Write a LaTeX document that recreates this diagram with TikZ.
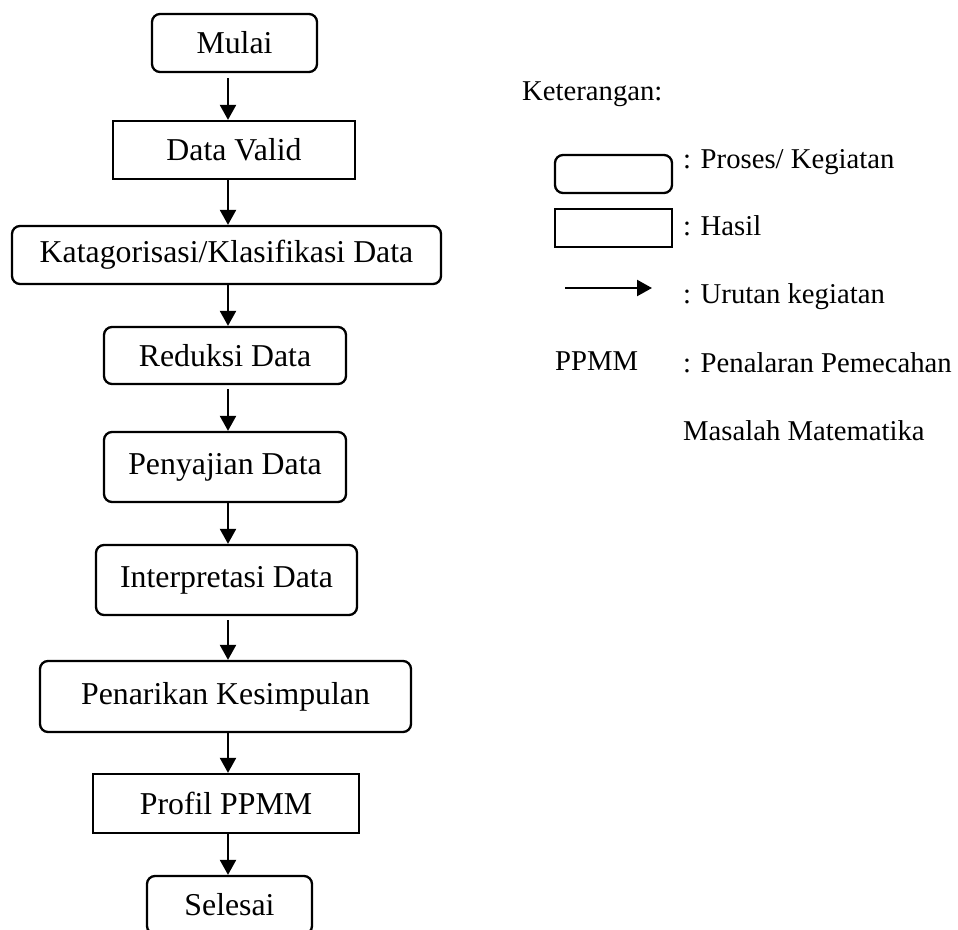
\documentclass[tikz,border=0pt]{standalone}
\usepackage{fontspec}
\setmainfont{Liberation Serif}
\usetikzlibrary{arrows.meta}
\begin{document}
\begin{tikzpicture}[x=1pt,y=-1pt,font=\fontsize{28.7}{34}\selectfont]
            \tikzstyle{proses}=[draw,line width=2.3pt,rounded corners=8pt,inner sep=0pt,font=\fontsize{31.8}{38}\selectfont]
            \tikzstyle{hasil}=[draw,line width=2.3pt,inner sep=0pt,font=\fontsize{31.8}{38}\selectfont]
            \tikzstyle{alur}=[line width=2.3pt,-{Triangle[width=16pt,length=15pt]}]
            \useasboundingbox (0,0) rectangle (958,929);
            \coordinate (poros) at (228,0);
            \node[proses,minimum width=165pt,minimum height=58pt] (mulai) at (234.5,43) {Mulai};
            \node[hasil,minimum width=242pt,minimum height=58pt] (valid) at (234,150) {Data Valid};
            \node[proses,minimum width=429pt,minimum height=58pt] (kategori) at (226.5,255) {Katagorisasi/Klasifikasi Data};
            \node[proses,minimum width=242pt,minimum height=57pt] (reduksi) at (225,355.5) {Reduksi Data};
            \node[proses,minimum width=242pt,minimum height=70pt] (sajian) at (225,467) {Penyajian Data};
            \node[proses,minimum width=261pt,minimum height=70pt] (tafsir) at (226.5,580) {Interpretasi Data};
            \node[proses,minimum width=371pt,minimum height=71pt] (simpulan) at (225.5,696.5) {Penarikan Kesimpulan};
            \node[hasil,minimum width=266pt,minimum height=59pt] (profil) at (226,803.5) {Profil PPMM};
            \node[proses,minimum width=165pt,minimum height=58pt] (selesai) at (229.5,905) {Selesai};
            \draw[alur] (mulai.south -| poros) ++(0,5) -- (valid.north -| poros);
            \draw[alur] (valid.south -| poros) -- (kategori.north -| poros);
            \draw[alur] (kategori.south -| poros) -- (reduksi.north -| poros);
            \draw[alur] (reduksi.south -| poros) ++(0,4) -- (sajian.north -| poros);
            \draw[alur] (sajian.south -| poros) -- (tafsir.north -| poros);
            \draw[alur] (tafsir.south -| poros) ++(0,4) -- (simpulan.north -| poros);
            \draw[alur] (simpulan.south -| poros) -- (profil.north -| poros);
            \draw[alur] (profil.south -| poros) -- (selesai.north -| poros);
            % keterangan
            \node[anchor=base west,inner sep=0pt] (ket) at (522,100) {Keterangan:};
            \node[proses,minimum width=117pt,minimum height=38pt] (kproses) at (613.5,174) {};
            \node[anchor=base west,inner sep=0pt] (tproses) at (683,168) {: Proses/ Kegiatan};
            \node[hasil,minimum width=117pt,minimum height=38pt] (khasil) at (613.5,228) {};
            \node[anchor=base west,inner sep=0pt] (thasil) at (683,235) {: Hasil};
            \coordinate (kalurA) at (565,288);
            \coordinate (kalurB) at (652,288);
            \draw[alur] (kalurA) -- (kalurB);
            \node[anchor=base west,inner sep=0pt] (talur) at (683,303) {: Urutan kegiatan};
            \node[anchor=base west,inner sep=0pt] (ppmm) at (555,370) {PPMM};
            \node[anchor=base west,inner sep=0pt] (tppmm) at (683,372) {: Penalaran Pemecahan};
            \node[anchor=base west,inner sep=0pt] (tppmm2) at (683,440) {Masalah Matematika};
        \end{tikzpicture}
\end{document}
